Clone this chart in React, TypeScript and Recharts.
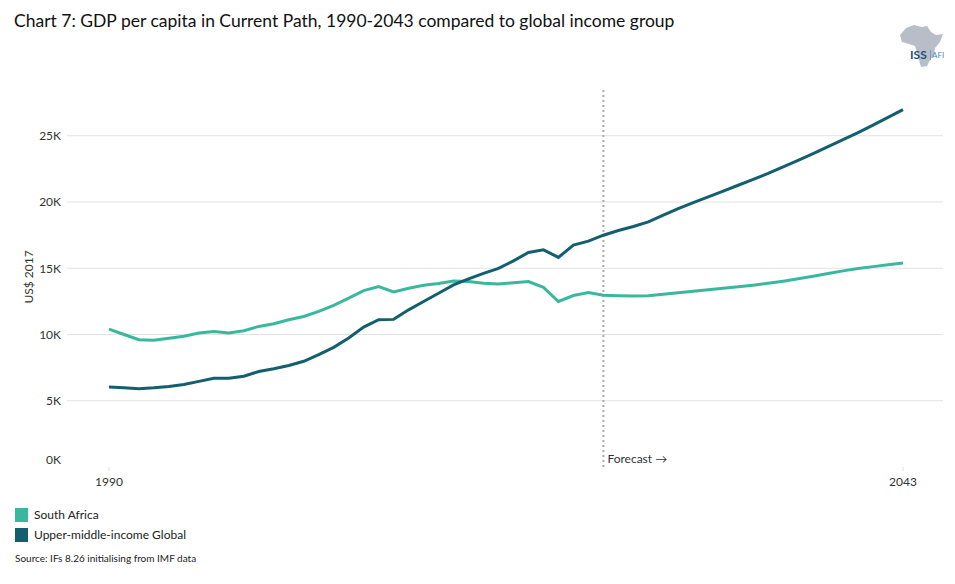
import React from "react";
import {
  LineChart,
  Line,
  XAxis,
  YAxis,
  CartesianGrid,
  ReferenceLine,
} from "recharts";

const years: number[] = Array.from({ length: 54 }, (_, i) => 1990 + i);

const southAfrica: number[] = [
  10.4, 10.0, 9.6, 9.56, 9.71, 9.86, 10.11, 10.23, 10.11, 10.28,
  10.61, 10.81, 11.11, 11.36, 11.74, 12.19, 12.74, 13.31, 13.61, 13.21,
  13.49, 13.71, 13.84, 14.04, 13.99, 13.86, 13.81, 13.91, 13.99, 13.56,
  12.49, 12.94, 13.16, 12.96, 12.92, 12.9, 12.92, 13.04, 13.15, 13.26,
  13.38, 13.49, 13.6, 13.72, 13.86, 14.02, 14.2, 14.39, 14.6, 14.8,
  14.98, 15.12, 15.26, 15.39,
];

const upperMiddle: number[] = [
  6.03, 5.98, 5.91, 5.98, 6.08, 6.23, 6.46, 6.7, 6.7, 6.85,
  7.21, 7.41, 7.66, 7.98, 8.48, 9.03, 9.73, 10.56, 11.11, 11.14,
  11.86, 12.49, 13.11, 13.74, 14.19, 14.61, 14.99, 15.56, 16.19, 16.39,
  15.82, 16.74, 17.04, 17.49, 17.85, 18.15, 18.5, 19.0, 19.5, 19.95,
  20.38, 20.82, 21.26, 21.7, 22.15, 22.64, 23.14, 23.65, 24.17, 24.7,
  25.24, 25.8, 26.38, 26.97,
];

const yTicks: number[] = [0, 5000, 10000, 15000, 20000, 25000];
const gridValues: number[] = [5000, 10000, 15000, 20000, 25000];
const xTicks: number[] = [1990, 2043];
const forecastYear = 2023;

const SA_COLOR = "#3ab89f";
const UMI_COLOR = "#145f6f";
const FONT = "Lato, 'Open Sans', sans-serif";

const data = years.map((year, i) => ({
  year,
  sa: southAfrica[i] * 1000,
  umi: upperMiddle[i] * 1000,
}));

const YTick = (props: any) => {
  const { x, y, payload } = props;
  const dy = payload.value === 0 ? -8 : 0;
  return (
    <text
      x={x}
      y={y + dy}
      textAnchor="end"
      dominantBaseline="central"
      fontSize={12}
      fontFamily={FONT}
      fill="#333"
    >
      {payload.value / 1000}K
    </text>
  );
};

const XTick = (props: any) => {
  const { x, y, payload } = props;
  return (
    <text
      x={x}
      y={y}
      dy="0.71em"
      textAnchor="middle"
      fontSize={12}
      fontFamily={FONT}
      fill="#333"
    >
      {payload.value}
    </text>
  );
};

const ForecastLabel = (props: any) => {
  const { viewBox } = props;
  const x = viewBox.x + 4;
  const y = viewBox.y + viewBox.height - 9;
  return (
    <text
      x={x}
      y={y}
      dominantBaseline="central"
      fontSize={12}
      fontFamily={FONT}
      fill="#333"
    >
      Forecast →
    </text>
  );
};

export default function App() {
  return (
    <div
      style={{
        position: "absolute",
        left: 0,
        top: 0,
        width: 955,
        height: 584,
        background: "#fff",
        fontFamily: FONT,
        overflow: "hidden",
      }}
    >
      <LineChart
        width={955}
        height={584}
        data={data}
        margin={{ top: 88, right: 12, bottom: 87, left: 0 }}
      >
        <CartesianGrid
          horizontal={true}
          vertical={false}
          horizontalValues={gridValues}
          stroke="#e2e2e2"
          strokeWidth={1}
        />
        <XAxis
          dataKey="year"
          type="number"
          domain={[1990, 2043]}
          ticks={xTicks}
          padding={{ left: 42, right: 40 }}
          axisLine={false}
          tickLine={{ stroke: "#e0e0e0" }}
          tickSize={4}
          tickMargin={6}
          height={30}
          tick={<XTick />}
          interval={0}
        />
        <YAxis
          type="number"
          domain={[0, 28600]}
          ticks={yTicks}
          axisLine={false}
          tickLine={false}
          tickSize={0}
          tickMargin={6}
          width={67}
          tick={<YTick />}
          interval={0}
        />
        <ReferenceLine
          x={forecastYear}
          stroke="#aaaaaa"
          strokeWidth={2}
          strokeDasharray="2 3"
          label={<ForecastLabel />}
        />
        <Line
          type="linear"
          dataKey="sa"
          stroke={SA_COLOR}
          strokeWidth={3}
          dot={false}
          activeDot={false}
          isAnimationActive={false}
        />
        <Line
          type="linear"
          dataKey="umi"
          stroke={UMI_COLOR}
          strokeWidth={3}
          dot={false}
          activeDot={false}
          isAnimationActive={false}
        />
      </LineChart>

      <div
        style={{
          position: "absolute",
          left: 14,
          top: 10,
          fontSize: 17.5,
          color: "#111",
          whiteSpace: "nowrap",
        }}
      >
        Chart 7: GDP per capita in Current Path, 1990-2043 compared to global income group
      </div>

      <div
        style={{
          position: "absolute",
          left: 28,
          top: 277,
          transform: "translate(-50%, -50%) rotate(-90deg)",
          fontSize: 12,
          color: "#333",
          whiteSpace: "nowrap",
        }}
      >
        US$ 2017
      </div>

      <svg
        style={{ position: "absolute", left: 896, top: 22 }}
        width={55}
        height={48}
      >
        <path
          d="M10 6 L18 3 L26 5 L31 4 L35 10 L40 13 L47 12 L44 20 L39 26 L38 33 L34 38 L31 44 L25 45 L23 38 L21 30 L19 24 L13 22 L6 20 L4 13 Z"
          fill="#b8bec8"
        />
        <text x={14} y={37} fontSize={12} fontFamily={FONT} fontWeight={700} fill="#1c4f7c">
          ISS
        </text>
        <rect x={34} y={28} width={1} height={10} fill="#6fa0c8" />
        <text x={36} y={36} fontSize={8} fontFamily={FONT} fill="#4a88c0">
          AFI
        </text>
      </svg>

      <div style={{ position: "absolute", left: 15, top: 507, display: "flex", alignItems: "center" }}>
        <div style={{ width: 13, height: 14, background: SA_COLOR, marginRight: 6 }} />
        <span style={{ fontSize: 12, color: "#222" }}>South Africa</span>
      </div>
      <div style={{ position: "absolute", left: 15, top: 527, display: "flex", alignItems: "center" }}>
        <div style={{ width: 13, height: 14, background: UMI_COLOR, marginRight: 6 }} />
        <span style={{ fontSize: 12, color: "#222" }}>Upper-middle-income Global</span>
      </div>

      <div
        style={{
          position: "absolute",
          left: 15,
          top: 552,
          fontSize: 10,
          color: "#222",
          whiteSpace: "nowrap",
        }}
      >
        Source: IFs 8.26 initialising from IMF data
      </div>
    </div>
  );
}
